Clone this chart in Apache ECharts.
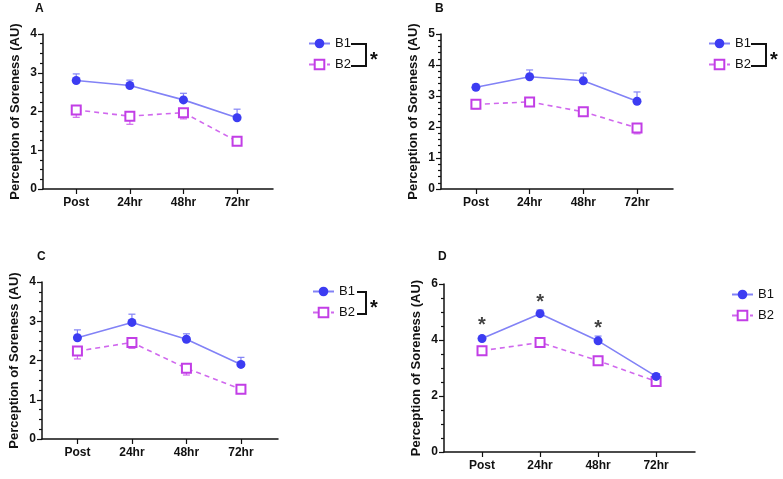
<!DOCTYPE html>
<html>
<head>
<meta charset="utf-8">
<script src="https://cdn.jsdelivr.net/npm/echarts@6/dist/echarts.min.js"></script>
<style>
html, body { margin: 0; padding: 0; background: #fff; }
#chart-panel { width: 783px; height: 479px; }
</style>
</head>
<body>
<div id="chart-panel"></div>
<script>
(function () {
    var myChart = echarts.init(document.querySelector('#chart-panel'));

    var cats = ['Post', '24hr', '48hr', '72hr'];

    // panel A
    var aB1 = [2.80, 2.67, 2.30, 1.84];
    var aB1Err = [0.17, 0.14, 0.17, 0.22];
    var aB2 = [2.04, 1.88, 1.97, 1.23];
    var aB2Err = [0.19, 0.21, 0.16, 0.07];
    // panel B
    var bB1 = [3.28, 3.62, 3.49, 2.83];
    var bB1Err = [0.10, 0.22, 0.25, 0.30];
    var bB2 = [2.73, 2.81, 2.49, 1.97];
    var bB2Err = [0.14, 0.14, 0.09, 0.19];
    // panel C
    var cB1 = [2.58, 2.97, 2.54, 1.90];
    var cB1Err = [0.20, 0.21, 0.14, 0.18];
    var cB2 = [2.24, 2.46, 1.80, 1.27];
    var cB2Err = [0.20, 0.15, 0.17, 0.07];
    // panel D
    var dB1 = [4.05, 4.94, 3.97, 2.70];
    var dB1Err = [0.09, 0.13, 0.17, 0.10];
    var dB2 = [3.62, 3.91, 3.26, 2.52];
    var dB2Err = [0.07, 0.06, 0.06, 0.07];
    var dStars = [4.66, 5.47, 4.57, null];

    var yMax = [4, 5, 4, 6];
    var yStep = [1, 1, 1, 2];
    var yMinorSplit = [4, 5, 4, 4];

    var c1 = '#3c3cf2', c1Line = '#8282f6';
    var c2 = '#c23ee6', c2Line = '#d068ee';
    var fontFam = 'Arial, "Liberation Sans", sans-serif';

    var grids = [
        {left: 43, top: 34, width: 230, height: 155},
        {left: 441, top: 34, width: 232, height: 155},
        {left: 42, top: 282, width: 236, height: 157},
        {left: 444, top: 284, width: 251, height: 168}
    ];
    var xRange = [[-0.62, 3.67], [-0.65, 3.67], [-0.65, 3.68], [-0.655, 3.67]];

    var panels = [
        [aB1, aB1Err, aB2, aB2Err],
        [bB1, bB1Err, bB2, bB2Err],
        [cB1, cB1Err, cB2, cB2Err],
        [dB1, dB1Err, dB2, dB2Err]
    ];

    var pairs = function (vals) {
        return vals.map(function (v, i) { return [i, v]; });
    };

    // error bar: one direction only, with a cap
    var errBar = function (dir, color) {
        return function (params, api) {
            var x = api.value(0), y = api.value(1), e = api.value(2);
            var p0 = api.coord([x, y]);
            var p1 = api.coord([x, y + dir * e]);
            return {
                type: 'group',
                children: [
                    {type: 'line', shape: {x1: p0[0], y1: p0[1], x2: p1[0], y2: p1[1]},
                     style: {stroke: color, lineWidth: 1.2}},
                    {type: 'line', shape: {x1: p1[0] - 3.5, y1: p1[1], x2: p1[0] + 3.5, y2: p1[1]},
                     style: {stroke: color, lineWidth: 1.2}}
                ]
            };
        };
    };

    var xAxes = [], yAxes = [], series = [];
    panels.forEach(function (p, k) {
        xAxes.push({
            gridIndex: k, type: 'value', min: xRange[k][0], max: xRange[k][1],
            splitLine: {show: false},
            axisLine: {onZero: false, lineStyle: {color: '#111', width: 1.5}},
            axisTick: {show: true, customValues: [0, 1, 2, 3], length: 5, inside: false,
                       lineStyle: {color: '#111', width: 1.2}},
            axisLabel: {customValues: [0, 1, 2, 3], margin: 8,
                        formatter: function (v) { return cats[Math.round(v)]; },
                        color: '#111', fontWeight: 'bold', fontSize: 12, fontFamily: fontFam}
        });
        yAxes.push({
            gridIndex: k, type: 'value', min: 0, max: yMax[k], interval: yStep[k],
            splitLine: {show: false},
            axisLine: {show: true, onZero: false, lineStyle: {color: '#111', width: 1.5}},
            axisTick: {show: true, length: 5, lineStyle: {color: '#111', width: 1.2}},
            minorTick: {show: true, splitNumber: yMinorSplit[k], length: 3,
                        lineStyle: {color: '#111', width: 1.2}},
            axisLabel: {margin: 6, color: '#111', fontWeight: 'bold', fontSize: 12, fontFamily: fontFam},
            name: 'Perception of Soreness (AU)', nameLocation: 'middle', nameGap: 21,
            nameTextStyle: {color: '#111', fontWeight: 'bold', fontSize: 13, fontFamily: fontFam}
        });

        var b1 = p[0], b1e = p[1], b2 = p[2], b2e = p[3];
        series.push({
            type: 'custom', name: 'err1', xAxisIndex: k, yAxisIndex: k, z: 1,
            renderItem: errBar(1, c1Line),
            data: b1.map(function (v, i) { return [i, v, b1e[i]]; })
        });
        series.push({
            type: 'custom', name: 'err2', xAxisIndex: k, yAxisIndex: k, z: 1,
            renderItem: errBar(-1, c2Line),
            data: b2.map(function (v, i) { return [i, v, b2e[i]]; })
        });
        series.push({
            name: 'B2', type: 'line', xAxisIndex: k, yAxisIndex: k, z: 2,
            data: pairs(b2), symbol: 'rect', symbolSize: 9,
            lineStyle: {color: c2Line, width: 1.6, type: [5, 4]},
            itemStyle: {color: '#fff', borderColor: c2, borderWidth: 2},
            animation: false
        });
        series.push({
            name: 'B1', type: 'line', xAxisIndex: k, yAxisIndex: k, z: 3,
            data: pairs(b1), symbol: 'circle', symbolSize: 9,
            lineStyle: {color: c1Line, width: 1.6},
            itemStyle: {color: c1, borderColor: c1, borderWidth: 0},
            animation: false
        });
    });

    // significance stars on panel D
    series.push({
        type: 'scatter', xAxisIndex: 3, yAxisIndex: 3, symbolSize: 0.1,
        data: dStars.map(function (v, i) { return v == null ? null : [i, v]; }).filter(Boolean),
        label: {show: true, position: 'inside', offset: [0, 4], formatter: '*', color: '#111',
                fontSize: 20, fontWeight: 'bold', fontFamily: fontFam},
        itemStyle: {color: 'transparent'}, animation: false
    });

    var legendPos = [[303, 32], [703, 32], [307, 280], [726, 283]];
    var legends = legendPos.map(function (lp) {
        return {
            data: ['B1', 'B2'], orient: 'vertical', left: lp[0], top: lp[1],
            itemWidth: 21, itemHeight: 12, itemGap: 8, selectedMode: false,
            textStyle: {color: '#111', fontSize: 13, fontFamily: fontFam}
        };
    });

    var bracket = function (x, y1, y2, arm) {
        return [
            {type: 'polyline', shape: {points: [[x - arm, y1], [x, y1], [x, y2], [x - arm, y2]]},
             style: {stroke: '#111', lineWidth: 2, fill: null}},
            {type: 'text', x: x + 4, y: (y1 + y2) / 2 - 5,
             style: {text: '*', fontSize: 20, fontWeight: 'bold', fill: '#111', fontFamily: fontFam}}
        ];
    };
    var letter = function (t, x, y) {
        return {type: 'text', x: x, y: y,
                style: {text: t, fontSize: 12, fontWeight: 'bold', fill: '#111', fontFamily: fontFam}};
    };

    var graphics = [].concat(
        bracket(366, 44, 66, 15), bracket(766, 44, 66, 15), bracket(366, 292, 314, 9),
        [letter('A', 35, 3), letter('B', 435, 3), letter('C', 37, 251), letter('D', 438, 251)]
    );

    var option = {
        backgroundColor: '#fff',
        animation: false,
        grid: grids,
        xAxis: xAxes,
        yAxis: yAxes,
        legend: legends,
        series: series,
        graphic: graphics
    };
    myChart.setOption(option);
})();
</script>
</body>
</html>
